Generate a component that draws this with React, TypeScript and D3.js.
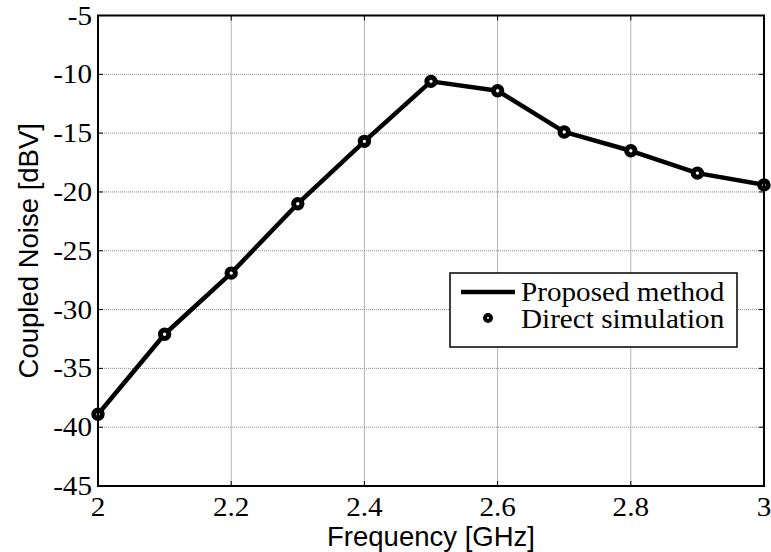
import React from 'react';
import * as d3 from 'd3';

const frequencies = [2.0, 2.1, 2.2, 2.3, 2.4, 2.5, 2.6, 2.7, 2.8, 2.9, 3.0];
const proposedMethod = [-38.9, -32.1, -26.9, -21.0, -15.7, -10.6, -11.4, -14.9, -16.5, -18.4, -19.4];
const directSimulation = [-38.9, -32.1, -26.9, -21.0, -15.7, -10.6, -11.4, -14.9, -16.5, -18.4, -19.4];
const xTicks = [2, 2.2, 2.4, 2.6, 2.8, 3];
const yTicks = [-45, -40, -35, -30, -25, -20, -15, -10, -5];

const W = 771;
const H = 552;
const margin = { top: 15.5, right: 7, bottom: 66, left: 98 };
const serif = '"Liberation Serif", "Times New Roman", serif';
const sans = '"Liberation Sans", Arial, sans-serif';
const SX = 1.08; // the serif text in the figure is a bit stretched sideways
const FS = 27;

const App = () => {
  const x = d3.scaleLinear().domain([2, 3]).range([margin.left, W - margin.right]);
  const y = d3.scaleLinear().domain([-45, -5]).range([H - margin.bottom, margin.top]);

  const line = d3.line<number>()
    .x((d, i) => x(frequencies[i]))
    .y(d => y(d));

  const x0 = x.range()[0], x1 = x.range()[1];
  const y0 = y.range()[0], y1 = y.range()[1];

  return (
    <svg width={W} height={H} style={{ position: 'absolute', left: 0, top: 0, background: '#fff' }}>
      {/* grid */}
      {xTicks.map(t => (
        <line key={'gx' + t} x1={x(t)} x2={x(t)} y1={y1} y2={y0} stroke="#b4b4b4" strokeWidth={1} />
      ))}
      {yTicks.map(t => (
        <line key={'gy' + t} x1={x0} x2={x1} y1={y(t)} y2={y(t)} stroke="#8c8c8c" strokeWidth={1} strokeDasharray="1,1" />
      ))}

      {/* ticks, pointing inwards on all four sides */}
      {xTicks.map(t => (
        <g key={'tx' + t} stroke="#000" strokeWidth={1}>
          <line x1={x(t)} x2={x(t)} y1={y0} y2={y0 - 5} />
          <line x1={x(t)} x2={x(t)} y1={y1} y2={y1 + 5} />
        </g>
      ))}
      {yTicks.map(t => (
        <g key={'ty' + t} stroke="#000" strokeWidth={1}>
          <line x1={x0} x2={x0 + 5} y1={y(t)} y2={y(t)} />
          <line x1={x1} x2={x1 - 5} y1={y(t)} y2={y(t)} />
        </g>
      ))}

      {/* data */}
      <path d={line(proposedMethod) || ''} fill="none" stroke="#000" strokeWidth={4.5} strokeLinejoin="round" />
      {directSimulation.map((v, i) => (
        <circle key={'pt' + i} cx={x(frequencies[i])} cy={y(v)} r={4.2} fill="#fff" stroke="#000" strokeWidth={5} />
      ))}

      {/* axes box */}
      <rect x={x0} y={y1} width={x1 - x0} height={y0 - y1} fill="none" stroke="#000" strokeWidth={2} />

      {/* tick labels */}
      {xTicks.map(t => (
        <g key={'lx' + t} transform={`translate(${x(t)},${y0 + 30}) scale(${SX},1)`}>
          <text textAnchor="middle" fontFamily={serif} fontSize={FS} fill="#000">{d3.format('')(t)}</text>
        </g>
      ))}
      {yTicks.map(t => (
        <g key={'ly' + t} transform={`translate(92,${y(t) + 9}) scale(${SX},1)`}>
          <text textAnchor="end" fontFamily={serif} fontSize={FS} fill="#000">{t}</text>
        </g>
      ))}

      {/* axis titles */}
      <text x={(x0 + x1) / 2} y={546} textAnchor="middle" fontFamily={sans} fontSize={27.5} fill="#000">Frequency [GHz]</text>
      <text transform={`translate(38,${(y0 + y1) / 2}) rotate(-90)`} textAnchor="middle" fontFamily={sans} fontSize={27.5} fill="#000">Coupled Noise [dBV]</text>

      {/* legend */}
      <g>
        <rect x={450} y={273} width={287} height={74} fill="#fff" stroke="#000" strokeWidth={1.5} />
        <line x1={461} x2={515} y1={292} y2={292} stroke="#000" strokeWidth={4.5} />
        <g transform={`translate(521,301) scale(${SX},1)`}>
          <text fontFamily={serif} fontSize={FS} fill="#000">Proposed method</text>
        </g>
        <circle cx={488} cy={318} r={3} fill="#fff" stroke="#000" strokeWidth={4} />
        <g transform={`translate(521,328) scale(${SX},1)`}>
          <text fontFamily={serif} fontSize={FS} fill="#000">Direct simulation</text>
        </g>
      </g>
    </svg>
  );
};

export default App;
